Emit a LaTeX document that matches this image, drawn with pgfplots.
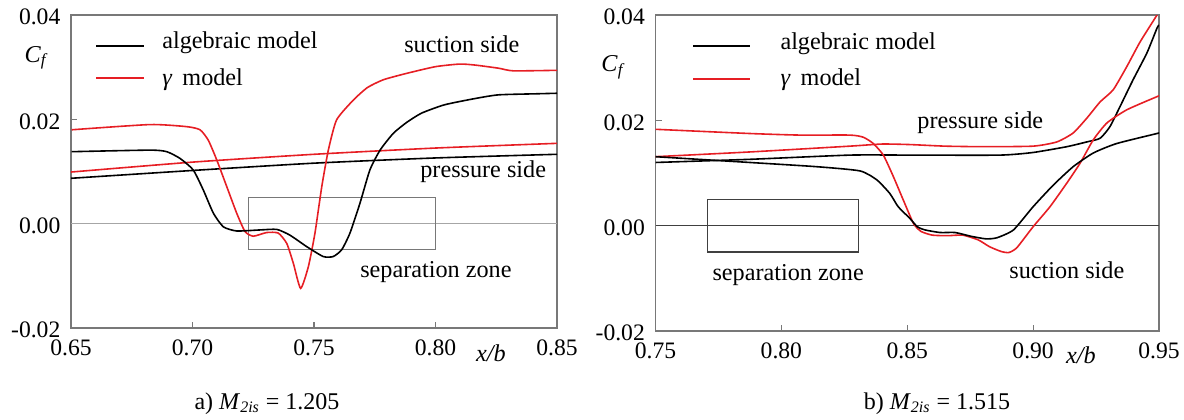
\documentclass[border=0pt]{standalone}
\usepackage{fontspec}
\setmainfont{Liberation Serif}
\usepackage{pgfplots}
\pgfplotsset{compat=1.18}
\definecolor{cred}{RGB}{230,30,36}
\definecolor{frm}{RGB}{120,120,120}
\newcommand\lab{\fontsize{12.1}{14}\selectfont}
\newcommand\tlab{\fontsize{11.8}{14}\selectfont}
\begin{document}
\begin{tikzpicture}
\path[use as bounding box] (0,0) rectangle (592pt,209.5pt);
\pgfplotsset{
  myax/.style={
    scale only axis, anchor=south west, clip mode=individual,
    scaled y ticks=false, scaled x ticks=false,
    axis line style={frm, line width=0.7pt},
    tick style={frm, line width=0.6pt}, major tick length=3pt, tick align=inside,
    xtick pos=lower, ytick pos=left,
    ymin=-0.02, ymax=0.04, ytick={-0.02,0,0.02,0.04},
    yticklabels={-0.02,0.00,0.02,0.04},
    tick label style={font=\tlab},
    xticklabel style={yshift=-2.6pt},
    yticklabel style={xshift=-1.8pt, yshift=-1pt},
    every axis plot/.append style={line width=0.8pt, smooth, tension=0.35},
  }
}
% ---------------- left panel ----------------
\begin{axis}[myax, at={(35.5pt,45.5pt)}, width=243pt, height=156.5pt,
  xmin=0.65, xmax=0.85, xtick={0.65,0.70,0.75,0.80,0.85},
  xticklabels={0.65,0.70,0.75,0.80,0.85}]
\addplot[gray!70, line width=0.6pt, sharp plot] coordinates {(0.65,0) (0.85,0)};
\draw[frm, line width=0.6pt] (axis cs:0.723,-0.005) rectangle (axis cs:0.80,0.005);
% pressure side
\addplot[cred] coordinates {(0.65,0.0099) (0.70,0.0118) (0.75,0.0133) (0.80,0.0145) (0.85,0.0154)};
\addplot[black] coordinates {(0.65,0.0087) (0.70,0.0102) (0.75,0.0116) (0.80,0.0126) (0.85,0.0133)};
% suction side gamma model
\addplot[cred] coordinates {
(0.6503,0.0180) (0.6825,0.0190) (0.6976,0.0186) (0.7031,0.0180) (0.7065,0.0160)
(0.7100,0.0122) (0.7141,0.0071) (0.7182,0.0020) (0.7216,-0.0015) (0.7250,-0.0024)
(0.7305,-0.0017) (0.7353,-0.0018) (0.7388,-0.0038) (0.7415,-0.0076) (0.7445,-0.0124)
(0.7477,-0.0082) (0.7504,-0.0018) (0.7532,0.0071) (0.7559,0.0141) (0.7593,0.0199)
(0.7662,0.0237) (0.7720,0.0261) (0.7786,0.0276) (0.7880,0.0288) (0.8000,0.0301)
(0.8100,0.0306) (0.8164,0.0304) (0.8260,0.0298) (0.8320,0.0293) (0.8500,0.0294)};
% suction side algebraic model
\addplot[black] coordinates {
(0.6503,0.0138) (0.6825,0.0141) (0.6894,0.0138) (0.6949,0.0125) (0.7003,0.0103)
(0.7044,0.0065) (0.7086,0.0020) (0.7127,-0.0006) (0.7182,-0.0014) (0.7278,-0.0012)
(0.7347,-0.0011) (0.7401,-0.0022) (0.7470,-0.0044) (0.7538,-0.0063) (0.7579,-0.0063)
(0.7614,-0.0050) (0.7648,-0.0018) (0.7689,0.0039) (0.7730,0.0103) (0.7772,0.0141)
(0.7826,0.0173) (0.7881,0.0194) (0.7943,0.0212) (0.8038,0.0228) (0.8164,0.0240)
(0.8260,0.0247) (0.8416,0.0249) (0.8500,0.0250)};
% legend
\draw[black, line width=0.8pt] (axis cs:0.6603,0.0341) -- (axis cs:0.6800,0.0341);
\draw[cred, line width=0.8pt] (axis cs:0.6603,0.0279) -- (axis cs:0.6800,0.0279);
\node[anchor=west, inner sep=0pt, font=\lab] at (axis cs:0.6874,0.0347) {algebraic model};
\node[anchor=west, inner sep=0pt, font=\lab] at (axis cs:0.6874,0.0277) {\textit{γ}\, model};
\node[anchor=west, inner sep=0pt, font=\lab] at (axis cs:0.7870,0.0344) {suction side};
\node[anchor=west, inner sep=0pt, font=\lab] at (axis cs:0.7936,0.0099) {pressure side};
\node[anchor=west, inner sep=0pt, font=\lab] at (axis cs:0.7689,-0.0093) {separation zone};
\node[font=\lab] at (rel axis cs:0,0.863) [xshift=-17.2pt] {\textit{C}\textsubscript{\textit{f}}};
\node[font=\lab] at (rel axis cs:0.864,0) [yshift=-12.5pt] {\textit{x/b}};
\end{axis}
% ---------------- right panel ----------------
\begin{axis}[myax, at={(327.75pt,44pt)}, width=251.75pt, height=158pt,
  xmin=0.75, xmax=0.95, xtick={0.75,0.80,0.85,0.90,0.95},
  xticklabels={0.75,0.80,0.85,0.90,0.95}]
\addplot[black!75, line width=0.6pt, sharp plot] coordinates {(0.75,0) (0.95,0)};
\draw[black!75, line width=0.6pt] (axis cs:0.7707,-0.005) rectangle (axis cs:0.8306,0.005);
% pressure side gamma
\addplot[cred] coordinates {
(0.7500,0.0131) (0.7875,0.0140) (0.8272,0.0151) (0.8400,0.0155) (0.8511,0.0154)
(0.8650,0.0151) (0.8800,0.0150) (0.9000,0.0151) (0.9094,0.0159) (0.9159,0.0176)
(0.9213,0.0204) (0.9266,0.0235) (0.9318,0.0258) (0.9372,0.0302) (0.9425,0.0349)
(0.9492,0.0400) (0.9500,0.0408)};
% pressure side algebraic
\addplot[black] coordinates {
(0.7500,0.0120) (0.7875,0.0126) (0.8272,0.0134) (0.8511,0.0134) (0.8868,0.0134)
(0.9000,0.0139) (0.9134,0.0150) (0.9213,0.0159) (0.9266,0.0166) (0.9305,0.0188)
(0.9345,0.0226) (0.9397,0.0277) (0.9452,0.0328) (0.9492,0.0375) (0.9500,0.0381)};
% suction side gamma
\addplot[cred] coordinates {
(0.7500,0.0183) (0.7875,0.0175) (0.8074,0.0172) (0.8272,0.0172) (0.8325,0.0168)
(0.8365,0.0156) (0.8405,0.0134) (0.8445,0.0093) (0.8484,0.0049) (0.8525,0.0004)
(0.8555,-0.0011) (0.8600,-0.0018) (0.8661,-0.0019) (0.8721,-0.0018) (0.8782,-0.0027)
(0.8827,-0.0040) (0.8873,-0.0049) (0.8903,-0.0051) (0.8935,-0.0042) (0.9000,-0.0002)
(0.9067,0.0036) (0.9134,0.0081) (0.9187,0.0119) (0.9239,0.0163) (0.9293,0.0195)
(0.9372,0.0220) (0.9492,0.0245) (0.9500,0.0246)};
% suction side algebraic
\addplot[black] coordinates {
(0.7500,0.0131) (0.7875,0.0120) (0.8140,0.0112) (0.8312,0.0104) (0.8379,0.0087)
(0.8431,0.0061) (0.8464,0.0036) (0.8510,0.0014) (0.8540,-0.0002) (0.8570,-0.0008)
(0.8630,-0.0013) (0.8690,-0.0013) (0.8752,-0.0020) (0.8812,-0.0025) (0.8856,-0.0023)
(0.8922,-0.0008) (0.9000,0.0036) (0.9080,0.0077) (0.9159,0.0112) (0.9239,0.0138)
(0.9332,0.0156) (0.9492,0.0175) (0.9500,0.0176)};
% legend
\draw[black, line width=0.8pt] (axis cs:0.7649,0.0341) -- (axis cs:0.7875,0.0341);
\draw[cred, line width=0.8pt] (axis cs:0.7649,0.0278) -- (axis cs:0.7875,0.0278);
\node[anchor=west, inner sep=0pt, font=\lab] at (axis cs:0.7995,0.0345) {algebraic model};
\node[anchor=west, inner sep=0pt, font=\lab] at (axis cs:0.7995,0.0277) {\textit{γ}\, model};
\node[anchor=west, inner sep=0pt, font=\lab] at (axis cs:0.8539,0.0195) {pressure side};
\node[anchor=west, inner sep=0pt, font=\lab] at (axis cs:0.8904,-0.0084) {suction side};
\node[anchor=west, inner sep=0pt, font=\lab] at (axis cs:0.7725,-0.0094) {separation zone};
\node[font=\lab] at (rel axis cs:0,0.835) [xshift=-21pt] {\textit{C}\textsubscript{\textit{f}}};
\node[font=\lab] at (rel axis cs:0.845,0) [yshift=-12pt] {\textit{x/b}};
\end{axis}
% captions
\node[anchor=base, font=\fontsize{12}{14}\selectfont] at (133.5pt,5pt) {a) \textit{M}\textsubscript{\textit{2is}} = 1.205};
\node[anchor=base, font=\fontsize{12}{14}\selectfont] at (468.5pt,5pt) {b) \textit{M}\textsubscript{\textit{2is}} = 1.515};
\end{tikzpicture}
\end{document}
